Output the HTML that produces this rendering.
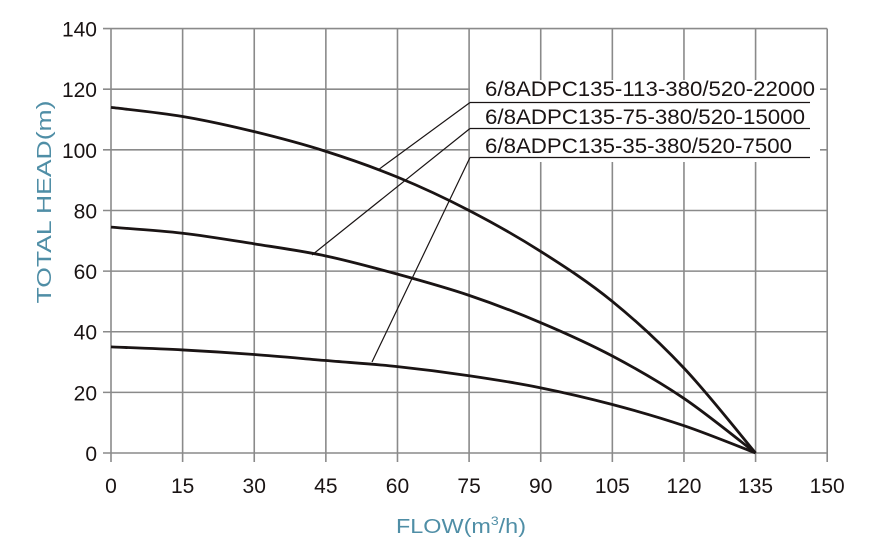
<!DOCTYPE html>
<html><head><meta charset="utf-8"><style>
body{margin:0;background:#fff;width:882px;height:551px;overflow:hidden}
text{font-family:"Liberation Sans",Arial,sans-serif}
</style></head><body>
<svg id="s" width="882" height="551" xmlns="http://www.w3.org/2000/svg">
<g id="grid" stroke="#8a8a8a" stroke-width="1.6"></g>
<rect x="470" y="80" width="350" height="82" fill="#fff"/>
<g id="curves" fill="none" stroke="#1a1414" stroke-width="2.8"></g>
<g stroke="#1a1414" stroke-width="1.2">
<line x1="470" y1="102.5" x2="810" y2="102.5"/>
<line x1="470" y1="128.5" x2="810" y2="128.5"/>
<line x1="470" y1="157.5" x2="810" y2="157.5"/>
<line x1="470" y1="102.5" x2="378" y2="170"/>
<line x1="470" y1="128.5" x2="312" y2="255"/>
<line x1="470" y1="157.5" x2="372" y2="362"/>
</g>
<g font-size="21" fill="#1a1414">
<text x="485" y="96" textLength="330" lengthAdjust="spacingAndGlyphs">6/8ADPC135-113-380/520-22000</text>
<text x="485" y="124" textLength="320" lengthAdjust="spacingAndGlyphs">6/8ADPC135-75-380/520-15000</text>
<text x="485" y="153" textLength="307" lengthAdjust="spacingAndGlyphs">6/8ADPC135-35-380/520-7500</text>
</g>
<g id="labels" font-size="21" fill="#1a1414"></g>
<text x="396" y="533" font-size="20" fill="#4f8ea6" textLength="130" lengthAdjust="spacingAndGlyphs">FLOW(m<tspan font-size="12" dy="-8">3</tspan><tspan dy="8">/h)</tspan></text>
<text transform="translate(51,202) rotate(-90)" font-size="20" fill="#4f8ea6" text-anchor="middle" textLength="203" lengthAdjust="spacingAndGlyphs">TOTAL HEAD(m)</text>
</svg>
<script>
var X=q=>111+q*4.7747,Y=h=>453-h*3.0314,ns="http://www.w3.org/2000/svg";
var g=document.getElementById('grid'),lb=document.getElementById('labels');
function el(p,t,a,txt){var e=document.createElementNS(ns,t);for(var k in a)e.setAttribute(k,a[k]);if(txt!=null)e.textContent=txt;p.appendChild(e);return e;}
for(var q=0;q<=150;q+=15){el(g,'line',{x1:X(q),x2:X(q),y1:Y(140),y2:462});el(lb,'text',{x:X(q),y:493,'text-anchor':'middle'},q);}
for(var h=0;h<=140;h+=20){el(g,'line',{x1:103,x2:X(150),y1:Y(h),y2:Y(h)});el(lb,'text',{x:97,y:Y(h)+8,'text-anchor':'end'},h);}
var data=[[114,111,106,99.5,91,80,66.5,50,28,0],[74.5,72.5,69,65,59,52,43,32,18,0],[35,34,32.5,30.5,28.5,25.5,21.5,16,9,0]];
var c=document.getElementById('curves');
data.forEach(function(d){var p=d.map((h,i)=>[X(i*15),Y(h)]);var s='M'+p[0];
for(var i=0;i<p.length-1;i++){var p0=p[i-1]||p[i],p1=p[i],p2=p[i+1],p3=p[i+2]||p2;
s+=' C'+(p1[0]+(p2[0]-p0[0])/6)+','+(p1[1]+(p2[1]-p0[1])/6)+' '+(p2[0]-(p3[0]-p1[0])/6)+','+(p2[1]-(p3[1]-p1[1])/6)+' '+p2;}
el(c,'path',{d:s});});
</script>
</body></html>
